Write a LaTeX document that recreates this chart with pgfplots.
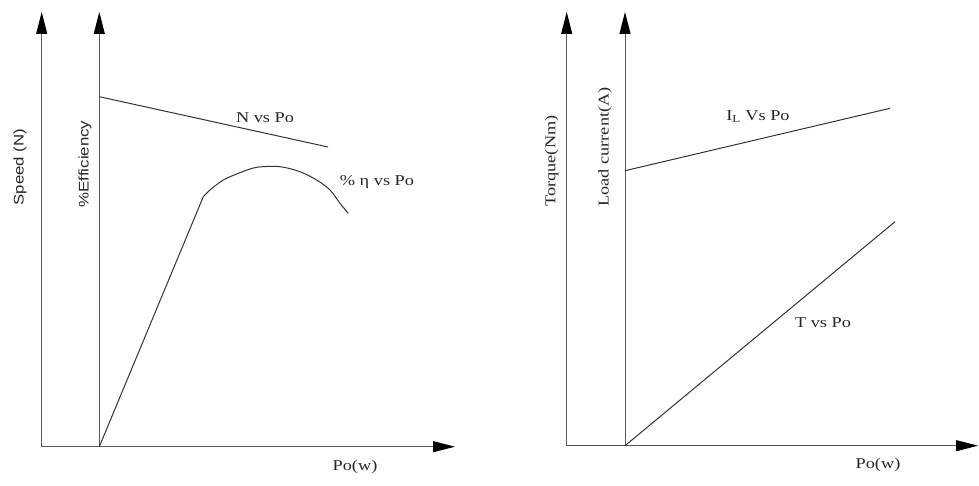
\documentclass[border=0pt]{standalone}
\usepackage{pgfplots}
\pgfplotsset{compat=1.18}
\usetikzlibrary{arrows.meta}
\usepackage{fontspec}
\setmainfont{Liberation Serif}[FakeStretch=1.22]
\newfontfamily\sansf{Liberation Sans}[FakeStretch=1.2]

\pgfplotsset{
  sketch/.style={
    scale only axis,
    axis lines=left,
    xtick=\empty, ytick=\empty,
    clip=false,
    axis line style={draw=black!65, line width=1pt,
      -{Triangle[length=22pt,width=11pt,color=black]}},
  },
  curve/.style={draw=black!80, line width=1pt, no marks},
}
\tikzset{lab/.style={font=\fontsize{15}{17}\selectfont, text=black!85}}

\begin{document}
\begin{tikzpicture}[x=1pt,y=1pt]
\useasboundingbox (0,0) rectangle (979,485);

% left panel: speed and efficiency
\begin{axis}[sketch,
  at={(41.7pt,38.3pt)}, anchor=south west,
  width=413.3pt, height=434.7pt,
  xmin=-57.6, xmax=355.7, ymin=0, ymax=434.7]
\addplot[draw=black!65, line width=1pt, -{Triangle[length=22pt,width=11pt,color=black]}]
  coordinates {(0,0) (0,434.7)};
\addplot[curve] coordinates {(0,350) (228.7,299.7)};
\addplot[curve] coordinates {(0,0) (104,250)};
\addplot[curve, smooth, tension=0.5] coordinates {
  (104,250) (110.7,256.7) (124,266.7) (140.7,274) (157.4,279.4)
  (180.7,280) (200.7,275) (217.4,266.7) (230.7,256.7) (240.7,243.4) (249,233.4)};
\node[rotate=90, text=black!85, font=\sansf\fontsize{14}{16}\selectfont] at (axis cs:-79.3,279.7) {Speed (N)};
\node[rotate=90, text=black!85, font=\sansf\fontsize{14}{16}\selectfont] at (axis cs:-14.3,282.7) {\%Efficiency};
\node[lab] at (axis cs:165.7,328.7) {N vs Po};
\node[lab] at (axis cs:277.7,264.7) {\% η vs Po};
\node[lab] at (axis cs:255.7,-20.3) {Po(w)};
\end{axis}

% right panel: torque and load current
\begin{axis}[sketch,
  at={(566.7pt,39.3pt)}, anchor=south west,
  width=411.3pt, height=433.7pt,
  xmin=-58.3, xmax=353, ymin=0, ymax=433.7]
\addplot[draw=black!65, line width=1pt, -{Triangle[length=22pt,width=11pt,color=black]}]
  coordinates {(0,0) (0,433.7)};
\addplot[curve] coordinates {(0,275) (265,337.4)};
\addplot[curve] coordinates {(0,0) (270,224)};
\node[lab, rotate=90] at (axis cs:-73.3,284.7) {Torque(Nm)};
\node[lab, rotate=90] at (axis cs:-20,298.7) {Load current(A)};
\node[lab] at (axis cs:133,328.7) {I\textsubscript{L} Vs Po};
\node[lab] at (axis cs:198,122.7) {T vs Po};
\node[lab] at (axis cs:253,-19.3) {Po(w)};
\end{axis}
\end{tikzpicture}
\end{document}
